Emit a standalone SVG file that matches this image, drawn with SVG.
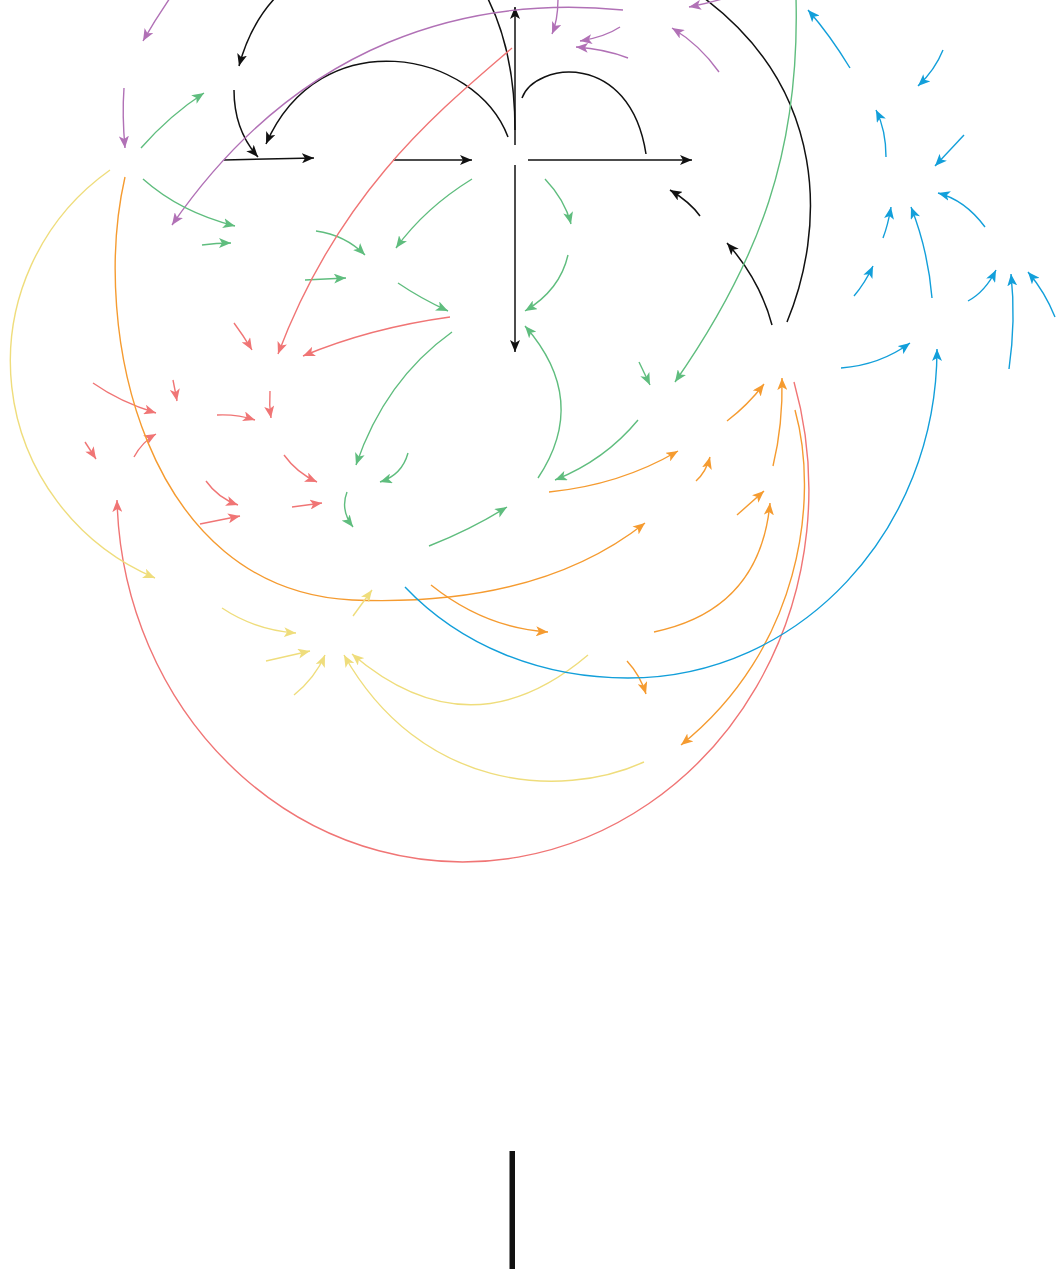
<svg xmlns="http://www.w3.org/2000/svg" width="1056" height="1269" viewBox="0 0 1056 1269">
<style>
.e{fill:none;stroke-width:1.4}
.k{stroke:#111;stroke-width:1.5;marker-end:url(#mk)}
.kn{stroke:#111;stroke-width:1.5}
.p{stroke:#b171b6;marker-end:url(#mp)}
.g{stroke:#5fbd7e;marker-end:url(#mg)}
.r{stroke:#f07575;marker-end:url(#mr)}
.o{stroke:#f59b30;marker-end:url(#mo)}
.y{stroke:#efdd7c;marker-end:url(#my)}
.b{stroke:#129fda;marker-end:url(#mb)}
</style>
<defs>
<marker id="mk" viewBox="0 0 12 10" markerWidth="12" markerHeight="10" refX="12" refY="5" orient="auto" markerUnits="userSpaceOnUse"><path d="M0,0 L12,5 L0,10 L3,5 z" fill="#111"/></marker>
<marker id="mp" viewBox="0 0 12 10" markerWidth="12" markerHeight="10" refX="12" refY="5" orient="auto" markerUnits="userSpaceOnUse"><path d="M0,0 L12,5 L0,10 L3,5 z" fill="#b171b6"/></marker>
<marker id="mg" viewBox="0 0 12 10" markerWidth="12" markerHeight="10" refX="12" refY="5" orient="auto" markerUnits="userSpaceOnUse"><path d="M0,0 L12,5 L0,10 L3,5 z" fill="#5fbd7e"/></marker>
<marker id="mr" viewBox="0 0 12 10" markerWidth="12" markerHeight="10" refX="12" refY="5" orient="auto" markerUnits="userSpaceOnUse"><path d="M0,0 L12,5 L0,10 L3,5 z" fill="#f07575"/></marker>
<marker id="mo" viewBox="0 0 12 10" markerWidth="12" markerHeight="10" refX="12" refY="5" orient="auto" markerUnits="userSpaceOnUse"><path d="M0,0 L12,5 L0,10 L3,5 z" fill="#f59b30"/></marker>
<marker id="my" viewBox="0 0 12 10" markerWidth="12" markerHeight="10" refX="12" refY="5" orient="auto" markerUnits="userSpaceOnUse"><path d="M0,0 L12,5 L0,10 L3,5 z" fill="#efdd7c"/></marker>
<marker id="mb" viewBox="0 0 12 10" markerWidth="12" markerHeight="10" refX="12" refY="5" orient="auto" markerUnits="userSpaceOnUse"><path d="M0,0 L12,5 L0,10 L3,5 z" fill="#129fda"/></marker>
</defs>
<rect width="1056" height="1269" fill="#fff"/>
<g id="connectors">
<!-- black -->
<path class="e kn" d="M515,130 Q515,50 486,-5"/>
<path class="e k" d="M515,145 L515,7"/>
<path class="e k" d="M508,137 C475,50 320,20 266,144"/>
<path class="e kn" d="M522,98 C535,62 630,50 646,154"/>
<path class="e k" d="M393,160 L472,160"/>
<path class="e k" d="M528,160 L692,160"/>
<path class="e k" d="M515,165 L515,352"/>
<path class="e k" d="M224,160 L314,158"/>
<path class="e k" d="M234,90 Q234,130 258,157"/>
<path class="e k" d="M275,-2 Q250,25 239,66"/>
<path class="e k" d="M700,216 Q690,202 670,190"/>
<path class="e k" d="M772,325 Q760,280 727,243"/>
<path class="e kn" d="M787,322 C825,230 830,90 700,-5"/>
<!-- purple -->
<path class="e p" d="M170,-2 Q155,20 143,41"/>
<path class="e p" d="M124,88 Q122,115 125,148"/>
<path class="e p" d="M623,10 C470,-5 300,40 172,225"/>
<path class="e p" d="M558,-2 Q558,20 552,34"/>
<path class="e p" d="M620,27 Q605,37 580,41"/>
<path class="e p" d="M628,58 Q605,49 576,47"/>
<path class="e p" d="M719,72 Q700,45 672,28"/>
<path class="e p" d="M722,-1 Q705,4 689,7"/>
<!-- green -->
<path class="e g" d="M141,148 Q170,115 204,93"/>
<path class="e g" d="M143,179 Q180,212 235,226"/>
<path class="e g" d="M202,245 Q216,243 231,243"/>
<path class="e g" d="M316,231 Q345,235 365,255"/>
<path class="e g" d="M305,280 L346,278"/>
<path class="e g" d="M472,179 Q425,208 396,248"/>
<path class="e g" d="M545,179 Q565,200 571,224"/>
<path class="e g" d="M568,255 Q560,290 525,311"/>
<path class="e g" d="M398,283 Q420,298 448,311"/>
<path class="e g" d="M452,332 Q385,380 356,465"/>
<path class="e g" d="M408,453 Q402,475 380,482"/>
<path class="e g" d="M538,478 Q590,400 525,326"/>
<path class="e g" d="M638,420 Q605,460 555,480"/>
<path class="e g" d="M639,362 L650,385"/>
<path class="e g" d="M796,-2 C800,150 760,260 675,382"/>
<path class="e g" d="M429,546 Q470,530 507,507"/>
<path class="e g" d="M347,492 Q340,510 353,527"/>
<!-- red -->
<path class="e r" d="M512,48 C440,110 340,190 278,354"/>
<path class="e r" d="M450,317 Q370,328 303,356"/>
<path class="e r" d="M234,323 Q243,335 252,350"/>
<path class="e r" d="M93,383 Q120,402 156,413"/>
<path class="e r" d="M173,380 Q175,390 177,401"/>
<path class="e r" d="M217,415 Q237,414 255,420"/>
<path class="e r" d="M270,391 Q269,405 271,418"/>
<path class="e r" d="M85,442 L96,459"/>
<path class="e r" d="M134,457 Q142,442 156,434"/>
<path class="e r" d="M284,455 Q297,473 317,482"/>
<path class="e r" d="M206,481 Q218,498 238,505"/>
<path class="e r" d="M200,524 L240,516"/>
<path class="e r" d="M292,507 L322,503"/>
<path class="e r" d="M794,382 A346,372 0 1 1 117,500"/>
<!-- orange -->
<path class="e o" d="M125,177 C90,330 145,590 352,600 C450,604 560,590 645,523"/>
<path class="e o" d="M549,492 Q620,485 678,451"/>
<path class="e o" d="M696,481 Q706,472 710,457"/>
<path class="e o" d="M727,421 Q748,405 764,384"/>
<path class="e o" d="M773,466 Q783,425 782,378"/>
<path class="e o" d="M737,515 L764,491"/>
<path class="e o" d="M654,632 Q760,610 770,503"/>
<path class="e o" d="M431,585 Q485,628 548,632"/>
<path class="e o" d="M627,661 Q640,675 646,694"/>
<path class="e o" d="M795,410 C820,500 800,650 681,745"/>
<!-- yellow -->
<path class="e y" d="M110,170 A240,236 0 0 0 155,578"/>
<path class="e y" d="M222,608 Q255,630 296,633"/>
<path class="e y" d="M266,661 L310,651"/>
<path class="e y" d="M294,695 Q315,678 325,655"/>
<path class="e y" d="M353,616 L372,590"/>
<path class="e y" d="M588,655 Q470,755 352,654"/>
<path class="e y" d="M644,762 C560,800 420,790 344,655"/>
<!-- blue -->
<path class="e b" d="M405,587 C460,645 540,678 628,678 C800,678 937,530 937,349"/>
<path class="e b" d="M850,68 Q830,35 808,10"/>
<path class="e b" d="M943,50 Q935,70 918,86"/>
<path class="e b" d="M886,157 Q886,130 876,110"/>
<path class="e b" d="M964,135 L935,166"/>
<path class="e b" d="M985,227 Q965,200 938,193"/>
<path class="e b" d="M883,238 Q888,225 891,207"/>
<path class="e b" d="M932,298 Q928,250 911,207"/>
<path class="e b" d="M854,296 Q865,283 873,266"/>
<path class="e b" d="M968,301 Q985,292 996,270"/>
<path class="e b" d="M1009,369 Q1016,320 1011,274"/>
<path class="e b" d="M1055,317 Q1045,292 1028,272"/>
<path class="e b" d="M841,368 Q880,365 910,343"/>
</g>
<rect x="509.5" y="1151" width="5.5" height="118" fill="#111"/>
</svg>
